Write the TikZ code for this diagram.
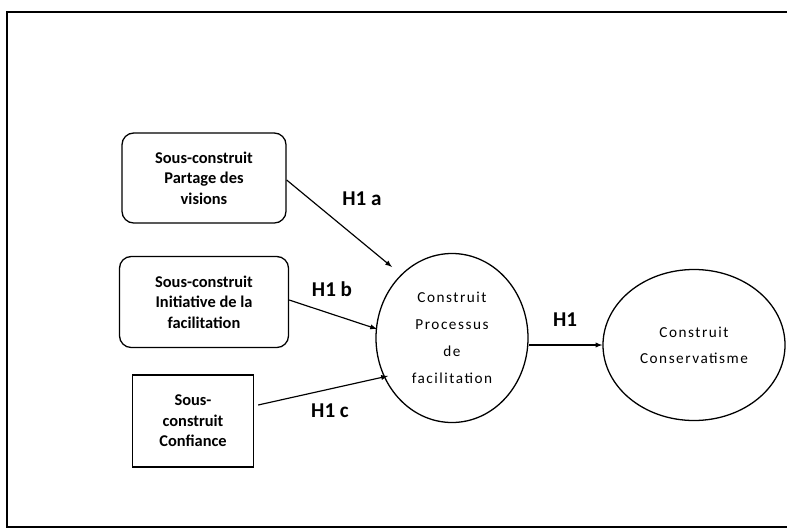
\documentclass[tikz,border=0pt]{standalone}
\usepackage{fontspec}
\setmainfont{Carlito}
\usetikzlibrary{shapes,arrows,positioning,calc}

\begin{document}
\begin{tikzpicture}[
    x = 0.03cm, y = -0.03cm,
    sub/.style = {draw, line width=1.1pt, rounded corners=10pt, align=center, inner sep=0pt,
                  font=\fontsize{14}{17.5}\selectfont\bfseries},
    construct/.style = {draw, line width=1.1pt, ellipse, align=center, inner sep=0pt,
                  font=\fontsize{13}{23}\selectfont\addfontfeature{LetterSpace=10}},
    hyp/.style = {font=\fontsize{18}{20}\selectfont\bfseries},
    link/.style = {line width=1pt, -latex}
  ]
  \useasboundingbox (0,0) rectangle (787,530);
  \draw[line width=1.6pt] (7,12) rectangle (800,527);

  % sous-construits
  \node[sub, minimum width=4.92cm, minimum height=2.7cm] (a) at (204,178)
    {Sous-construit\\Partage des\\visions};
  \node[sub, minimum width=5.07cm, minimum height=2.73cm] (b) at (204,302)
    {Sous-construit\\Initiative de la\\facilitation};
  \node[sub, rounded corners=0pt, minimum width=3.63cm, minimum height=2.76cm] (c) at (193,421)
    {Sous-\\construit\\Confiance};

  % construits
  \node[construct, minimum width=4.56cm, minimum height=5.07cm] (p) at (452,338)
    {Construit\\Processus\\de\\facilitation};
  \node[construct, minimum width=5.46cm, minimum height=4.53cm,
        font=\fontsize{13}{22}\selectfont\addfontfeature{LetterSpace=10}] (k) at (694,345)
    {Construit\\Conservatisme};

  \coordinate (pa) at (392,267);
  \coordinate (pb) at (377,329);
  \coordinate (pc) at (388,376);

  \draw[link] ($(a.east)+(0,2)$) -- (pa);
  \draw[link] ($(b.east)+(0,-2)$) -- (pb);
  \draw[link] ($(c.east)+(4,-16)$) -- (pc);
  \draw[link] ($(p.east)+(0,7)$) -- (k.west);

  \node[hyp] at (362,199) {H1 a};
  \node[hyp] at (332,289) {H1 b};
  \node[hyp] at (330,411) {H1 c};
  \node[hyp] at (565,320) {H1};
\end{tikzpicture}
\end{document}
